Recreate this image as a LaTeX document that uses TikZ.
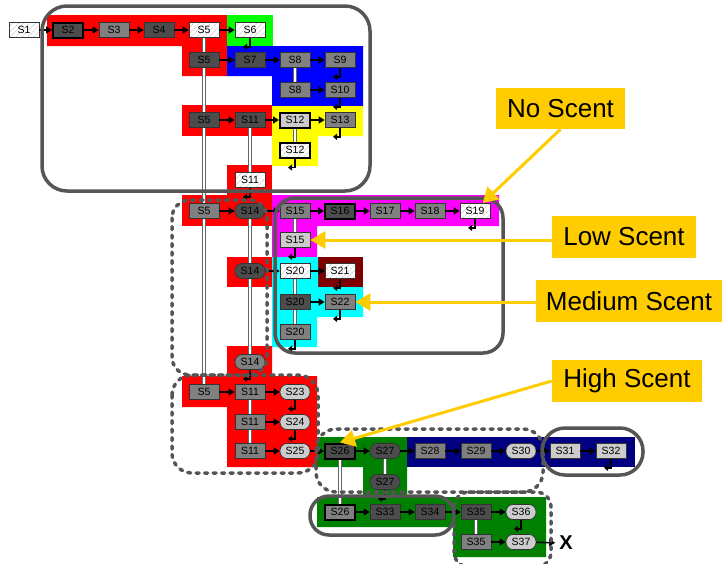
\documentclass[tikz,border=0pt]{standalone}
\usepackage{fontspec}
\setmainfont{Liberation Sans}
\usepackage{xcolor}
\usetikzlibrary{arrows.meta, patterns.meta, calc, backgrounds}

\definecolor{scentyellow}{HTML}{FFCC00}
\definecolor{purered}{HTML}{FF0000}
\definecolor{puregreen}{HTML}{00FF00}
\definecolor{pureblue}{HTML}{0000FF}
\definecolor{pureyellow}{HTML}{FFFF00}
\definecolor{puremagenta}{HTML}{FF00FF}
\definecolor{purecyan}{HTML}{00FFFF}
\definecolor{deepred}{HTML}{800000}
\definecolor{deepgreen}{HTML}{008000}
\definecolor{deepnavy}{HTML}{000080}
\definecolor{rim}{HTML}{555555}

\tikzset{
  st/.style={draw=black!80, line width=0.7pt, minimum width=30pt,
             minimum height=15pt, inner sep=0pt,
             font=\fontsize{10.5}{12}\selectfont},
  hatch/.style={st, preaction={fill=white},
             pattern={Lines[angle=45,distance=4pt,line width=0.5pt]},
             pattern color=black!25},
  dark/.style={st, fill=black!70},
  mid/.style={st, fill=black!50},
  light/.style={st, fill=black!20},
  heavy/.style={draw=black, line width=2pt},
  pill/.style={rounded corners=7pt},
  flow/.style={-{Triangle[length=6pt,width=7pt]}, line width=1.5pt},
  ret/.style={-{Triangle[length=4pt,width=6pt]}, line width=1.4pt},
  dbl/.style={draw=black!60, line width=1pt, double=white, double distance=2pt},
  frame/.style={draw=rim, line width=3.5pt},
  group/.style={draw=rim, line width=3.5pt, dash pattern=on 3pt off 5.5pt,
                line cap=round},
  scent/.style={fill=scentyellow, inner sep=0pt,
                font=\fontsize{26}{30}\selectfont},
  scentarrow/.style={draw=scentyellow, line width=3pt,
                     -{Triangle[length=15pt,width=17pt]}},
}

% return arrow below a state box
\newcommand\retarrow[1]{%
  \coordinate (#1r) at ($(#1.south)+(-7,9)$);
  \draw[ret] (#1.south) |- (#1r);}

\begin{document}
\begin{tikzpicture}[x=1pt, y=-1pt]

  \useasboundingbox (0,0) rectangle (722,563);

  %% ── Coloured regions ───────────────────────────────────────
  \begin{scope}[on background layer]
    \fill[purered] (47,15) -- (227,15) -- (227,76) -- (182,76) -- (182,46)
      -- (47,46) -- cycle;
    \fill[puregreen] (227,15) rectangle (273,46);
    \fill[pureblue] (227,46) -- (363,46) -- (363,106) -- (272,106) -- (272,76)
      -- (227,76) -- cycle;
    \fill[purered] (182,105) rectangle (272,136);
    \fill[pureyellow] (272,106) -- (363,106) -- (363,136) -- (318,136)
      -- (318,166) -- (272,166) -- cycle;
    \fill[purered] (227,165) rectangle (272,195);
    \fill[purered] (182,195) rectangle (272,226);
    \fill[puremagenta] (272,195) -- (499,195) -- (499,226) -- (317,226)
      -- (317,257) -- (272,257) -- cycle;
    \fill[purered] (227,257) rectangle (272,287);
    \fill[deepred] (318,257) rectangle (363,287);
    \fill[purecyan] (272,257) -- (318,257) -- (318,287) -- (363,287) -- (363,317)
      -- (317,317) -- (317,347) -- (272,347) -- cycle;
    \fill[purered] (227,346) -- (272,346) -- (272,376) -- (317,376) -- (317,467)
      -- (227,467) -- (227,407) -- (182,407) -- (182,376) -- (227,376) -- cycle;
    \fill[deepgreen] (317,437) -- (407,437) -- (407,497) -- (546,497)
      -- (546,557) -- (453,557) -- (453,527) -- (317,527) -- (317,497)
      -- (363,497) -- (363,467) -- (317,467) -- cycle;
    \fill[deepnavy] (407,437) rectangle (635,467);
  \end{scope}

  %% ── States ─────────────────────────────────────────────────
  % first row
  \node[hatch] (S1) at (24,30) {S1};
  \node[dark, heavy] (S2) at (68,30) {S2};
  \node[mid] (S3) at (114,30) {S3};
  \node[dark] (S4) at (159,30) {S4};
  \node[hatch] (S5a) at (204,30) {S5};
  \node[hatch] (S6) at (250,30) {S6};

  % blue branch
  \node[dark] (S5b) at (204,60) {S5};
  \node[dark] (S7) at (250,60) {S7};
  \node[mid] (S8a) at (295,60) {S8};
  \node[mid] (S9) at (340,60) {S9};
  \node[mid] (S8b) at (295,90) {S8};
  \node[mid] (S10) at (340,90) {S10};

  % yellow branch
  \node[dark] (S5c) at (204,120) {S5};
  \node[dark] (S11a) at (250,120) {S11};
  \node[light, heavy] (S12a) at (295,120) {S12};
  \node[mid] (S13) at (340,120) {S13};
  \node[hatch, heavy] (S12b) at (295,150) {S12};
  \node[hatch] (S11b) at (250,180) {S11};

  % magenta branch
  \node[mid] (S5d) at (204,211) {S5};
  \node[dark, pill] (S14a) at (250,211) {S14};
  \node[mid] (S15a) at (295,211) {S15};
  \node[dark, heavy] (S16) at (340,211) {S16};
  \node[mid] (S17) at (385,211) {S17};
  \node[mid] (S18) at (430,211) {S18};
  \node[hatch] (S19) at (475,211) {S19};
  \node[light] (S15b) at (295,240) {S15};

  % cyan branch
  \node[dark, pill] (S14b) at (250,271) {S14};
  \node[hatch] (S20a) at (295,271) {S20};
  \node[hatch] (S21) at (340,271) {S21};
  \node[dark] (S20b) at (295,302) {S20};
  \node[mid] (S22) at (340,302) {S22};
  \node[mid] (S20c) at (295,332) {S20};

  % lower red branch
  \node[mid, pill] (S14c) at (250,362) {S14};
  \node[mid] (S5e) at (204,392) {S5};
  \node[mid] (S11c) at (250,392) {S11};
  \node[light, pill] (S23) at (295,392) {S23};
  \node[mid] (S11d) at (250,422) {S11};
  \node[light, pill] (S24) at (295,422) {S24};
  \node[mid] (S11e) at (250,451) {S11};
  \node[light, pill] (S25) at (295,451) {S25};

  % green and navy branch
  \node[dark, heavy] (S26a) at (340,451) {S26};
  \node[dark, pill] (S27a) at (385,451) {S27};
  \node[mid] (S28) at (430,451) {S28};
  \node[mid] (S29) at (476,451) {S29};
  \node[light, pill] (S30) at (521,451) {S30};
  \node[light] (S31) at (565,451) {S31};
  \node[light] (S32) at (611,451) {S32};
  \node[dark, pill] (S27b) at (385,482) {S27};
  \node[mid, heavy] (S26b) at (340,512) {S26};
  \node[dark] (S33) at (385,512) {S33};
  \node[dark] (S34) at (430,512) {S34};
  \node[dark] (S35a) at (476,512) {S35};
  \node[light, pill] (S36) at (521,512) {S36};
  \node[mid] (S35b) at (476,542) {S35};
  \node[light, pill] (S37) at (521,542) {S37};
  \node[font=\fontsize{20}{24}\selectfont\bfseries, inner sep=4pt]
    (X) at (566,543) {X};

  %% ── Same-state links ───────────────────────────────────────
  \begin{scope}[on background layer]
    \foreach \a/\b in {S5a/S5e, S11a/S11b, S14a/S14c, S11c/S11e, S8a/S8b,
                       S12a/S12b, S15a/S15b, S20a/S20c, S26a/S26b,
                       S27a/S27b, S35a/S35b}
      \draw[dbl] (\a) -- (\b);
  \end{scope}

  %% ── Transitions ────────────────────────────────────────────
  \foreach \a/\b in {S1/S2, S2/S3, S3/S4, S4/S5a, S5a/S6,
                     S5b/S7, S7/S8a, S8a/S9, S8b/S10,
                     S5c/S11a, S11a/S12a, S12a/S13,
                     S5d/S14a, S14a/S15a, S15a/S16, S16/S17, S17/S18, S18/S19,
                     S14b/S20a, S20a/S21, S20b/S22,
                     S5e/S11c, S11c/S23, S11d/S24, S11e/S25, S25/S26a,
                     S26a/S27a, S27a/S28, S28/S29, S29/S30, S30/S31, S31/S32,
                     S26b/S33, S33/S34, S34/S35a, S35a/S36, S35b/S37, S37/X}
    \draw[flow] (\a) -- (\b);

  \foreach \n in {S6, S9, S10, S13, S12b, S11b, S19, S15b, S21, S22, S20c,
                  S14c, S23, S24, S27b, S32, S36}
    {\retarrow{\n}}

  %% ── Groupings ──────────────────────────────────────────────
  \draw[frame, rounded corners=25pt] (42,6) rectangle (370,191);
  \draw[frame, rounded corners=20pt] (275,198) rectangle (503,353);
  \draw[frame, rounded corners=23pt] (542,428) rectangle (643,475);
  \draw[frame, rounded corners=19pt] (310,496) rectangle (454,535);

  \draw[group, rounded corners=18pt] (172,200) rectangle (267,375);
  \draw[group, rounded corners=20pt] (172,375) rectangle (318,473);
  \draw[group, rounded corners=20pt] (316,429) rectangle (543,492);
  \begin{scope}
    \clip (0,0) rectangle (722,563);
    \draw[group, rounded corners=15pt] (454,492) rectangle (551,567);
  \end{scope}

  %% ── Scent callouts ─────────────────────────────────────────
  \node[scent, minimum width=129pt, minimum height=41pt]
    (noscent) at (560.5,108.5) {No Scent};
  \node[scent, minimum width=144pt, minimum height=42pt]
    (lowscent) at (624,237) {Low Scent};
  \node[scent, minimum width=186pt, minimum height=42pt]
    (medscent) at (629,301) {Medium Scent};
  \node[scent, minimum width=150pt, minimum height=42pt]
    (highscent) at (627,381) {High Scent};

  \draw[scentarrow] (noscent.south) -- ($(S19.north)!0.5!(S19.north east)$);
  \draw[scentarrow] (lowscent.west |- S15b) -- (S15b.east);
  \draw[scentarrow] (medscent.west |- S22) -- (S22.east);
  \draw[scentarrow] (highscent.west) -- (S26a.north);

\end{tikzpicture}
\end{document}
